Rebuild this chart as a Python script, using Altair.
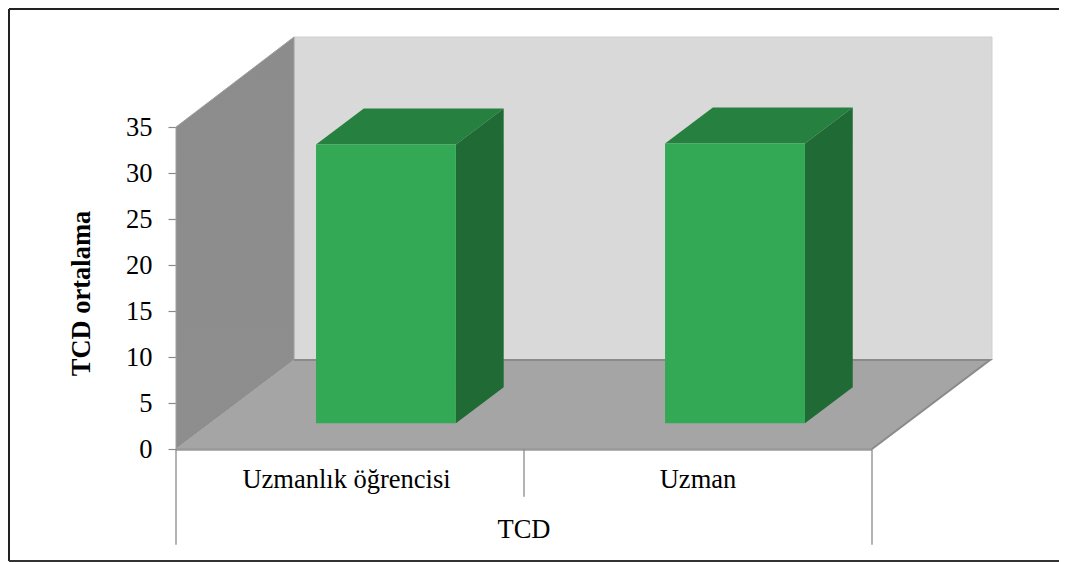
import altair as alt
import pandas as pd

categories = ["Uzmanlık öğrencisi", "Uzman"]
values = [30.3, 30.4]
y_ticks = [0, 5, 10, 15, 20, 25, 30, 35]
group_label = "TCD"
y_title = "TCD ortalama"

FONT = "Liberation Serif"
W, H = 816, 412
PX_X, PX_Y = 348.0, 9.2           # pixels per category, pixels per value unit
DX, DY = 118 / PX_X, 89 / PX_Y    # projection of full depth, in data units
X_MAX, Y_MAX = W / PX_X, H / PX_Y
AX = alt.Scale(domain=[0, X_MAX], nice=False, zero=False)
AY = alt.Scale(domain=[0, Y_MAX], nice=False, zero=False)
BAR_D0, BAR_D1 = 0.29, 0.695
BAR_W = 0.402
BAR_OFF = [0.304, 0.307]

Y_AXIS = alt.Axis(values=y_ticks, grid=False, domain=False, tickColor="#8a8a8a",
                  tickSize=8, tickWidth=1.2, labelFont=FONT, labelFontSize=26.5,
                  labelColor="#000000", labelPadding=16,
                  titleFont=FONT, titleFontSize=26.5, titleFontWeight="bold",
                  titleColor="#000000", titleX=-80.5, titleY=256)


def xe(f="x", **k):
    return alt.X(f"{f}:Q", scale=AX, axis=None, title=None, **k)


def ye(f="y", **k):
    return alt.Y(f"{f}:Q", scale=AY, axis=Y_AXIS, title=y_title, **k)


def v_poly(rows, color, stroke=None):
    """Polygon with vertical sides: rows of (x, y_low, y_high)."""
    d = pd.DataFrame(rows, columns=["x", "y", "y2"])
    kw = {"color": color, "opacity": 1}
    if stroke:
        kw.update(stroke=stroke, strokeWidth=1)
    return alt.Chart(d).mark_area(**kw).encode(
        x=xe(), y=ye(), y2=alt.Y2("y2:Q"))


def h_poly(rows, color, stroke=None):
    """Polygon with horizontal sides: rows of (y, x_low, x_high)."""
    d = pd.DataFrame(rows, columns=["y", "x", "x2"])
    kw = {"color": color, "opacity": 1, "orient": "horizontal"}
    if stroke:
        kw.update(stroke=stroke, strokeWidth=1)
    return alt.Chart(d).mark_area(**kw).encode(
        y=ye(), x=xe(), x2=alt.X2("x2:Q"))


def polyline(points, color, width):
    d = pd.DataFrame(points, columns=["x", "y"]).reset_index()
    return alt.Chart(d).mark_line(color=color, strokeWidth=width).encode(
        x=xe(), y=ye(), order="index:Q")


layers = []

# back wall
layers.append(v_poly([(DX, DY, Y_MAX), (X_MAX, DY, Y_MAX)], "#d9d9d9", "#cfcfcf"))
# left wall
layers.append(v_poly([(0, 0, 35), (DX, DY, Y_MAX)],
                     alt.Gradient(gradient="linear", x1=0, y1=0, x2=0, y2=1,
                                  stops=[alt.GradientStop(color="#8c8c8c", offset=0),
                                         alt.GradientStop(color="#8e8e8e", offset=1)]),
                     "#a0a0a0"))
# floor
layers.append(h_poly([(0, 0, 2), (DY, DX, 2 + DX)], "#a5a5a5"))
layers.append(polyline([(DX, DY), (2 + DX, DY), (2, 0)], "#8a8a8a", 2))
layers.append(polyline([(0, -0.05), (2, -0.05)], "#9a9a9a", 2.5))

# bars
for i, (cat, val) in enumerate(zip(categories, values)):
    x0 = i + BAR_OFF[i]
    x1 = x0 + BAR_W
    sx0 = x0 + BAR_D0 * DX
    sx1 = x1 + BAR_D0 * DX
    by = BAR_D0 * DY
    shx = (BAR_D1 - BAR_D0) * DX
    shy = (BAR_D1 - BAR_D0) * DY
    layers.append(h_poly([(by + val, sx0, sx1), (by + val + shy, sx0 + shx, sx1 + shx)], "#26803f"))
    layers.append(v_poly([(sx1, by, by + val), (sx1 + shx, by + shy, by + shy + val)], "#206a35"))
    layers.append(v_poly([(sx0, by, by + val), (sx1, by, by + val)], "#33a956"))

# multi-level category separators
sep = pd.DataFrame({"x": [0, 1, 2], "y": [0, 0, 0], "y2": [-10.4, -5.2, -10.4]})
layers.append(alt.Chart(sep).mark_rule(color="#8a8a8a", strokeWidth=1.3).encode(
    x=xe(), y=ye(), y2=alt.Y2("y2:Q")))

# labels
lab = pd.DataFrame({"x": [0.49, 1.5, 1.0], "y": [-3.4, -3.4, -8.75],
                    "t": categories + [group_label]})
layers.append(alt.Chart(lab).mark_text(font=FONT, fontSize=26.5, color="#000000").encode(
    x=xe(), y=ye(), text="t:N"))

# outer frame
BOTTOM = 112
layers.append(alt.Chart(pd.DataFrame({"a": [0]})).mark_rule(color="#222222", strokeWidth=2).encode(
    x=alt.value(-167), y=alt.value(-28), y2=alt.value(H + BOTTOM)))
layers.append(alt.Chart(pd.DataFrame({"a": [0]})).mark_rule(color="#222222", strokeWidth=2).encode(
    x=alt.value(-167), x2=alt.value(W + 67), y=alt.value(-28)))
layers.append(alt.Chart(pd.DataFrame({"a": [0]})).mark_rule(color="#333333", strokeWidth=2).encode(
    x=alt.value(-167), x2=alt.value(W + 67), y=alt.value(H + BOTTOM)))

chart = alt.layer(*layers).properties(
    width=W, height=H,
    padding={"left": 168, "top": 29, "right": 67, "bottom": BOTTOM + 1},
    autosize=alt.AutoSizeParams(type="none"),
    background="#ffffff",
).configure_view(stroke=None)

chart.save("out.html", embed_options={"renderer": "svg", "actions": False})
